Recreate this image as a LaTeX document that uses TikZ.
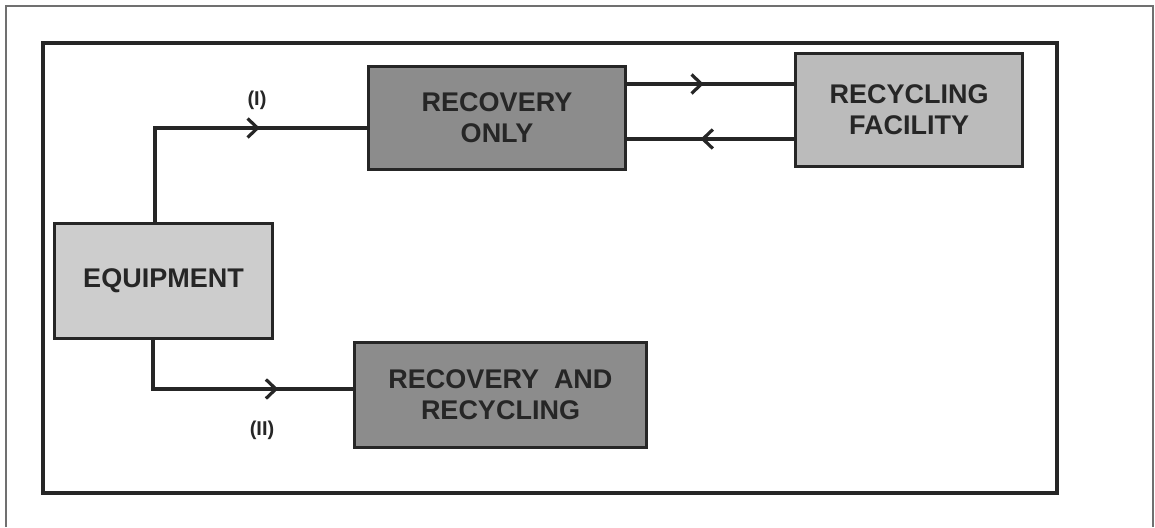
\documentclass[tikz,border=0pt]{standalone}
\usepackage{fontspec}
\setmainfont{Liberation Sans}
\usepackage{tikz}
\usetikzlibrary{arrows.meta,decorations.markings}
\definecolor{fgrey}{HTML}{707070}
\definecolor{ink}{HTML}{262626}
\definecolor{eqfill}{HTML}{CDCDCD}
\definecolor{recfill}{HTML}{8C8C8C}
\definecolor{facfill}{HTML}{BBBBBB}

\tikzset{
  blk/.style={draw=ink,line width=3.2pt,inner sep=0pt,align=center,text=ink,
    font=\bfseries\fontsize{27}{31}\selectfont},
  conn/.style={draw=ink,line width=3.2pt},
  tag/.style={text=ink,font=\bfseries\fontsize{20}{22}\selectfont},
  midarrow/.style={postaction={decorate},decoration={markings,
    mark=at position #1 with {\arrow{Straight Barb[length=10pt,width=19pt]}}}}
}

\begin{document}
\begin{tikzpicture}[x=1pt,y=-1pt]
  \useasboundingbox (0,0) rectangle (1155,527);
  % frames
  \draw[fgrey,line width=1.5pt] (6,527) -- (6,6) -- (1153,6) -- (1153,527);
  \draw[ink,line width=3.2pt] (43,43) rectangle (1057,493);
  % boxes
  \node[blk,fill=eqfill,minimum width=218,minimum height=115] (equip) at (163.5,281) {EQUIPMENT};
  \node[blk,fill=recfill,minimum width=257,minimum height=103] (recov) at (497,118) {RECOVERY\\ONLY};
  \node[blk,fill=facfill,minimum width=227,minimum height=113] (fac) at (909,110) {RECYCLING\\FACILITY};
  \node[blk,fill=recfill,minimum width=292,minimum height=105] (recyc) at (500.5,395) {RECOVERY\ \ AND\\RECYCLING};
  % routes
  \draw[conn,midarrow=0.65] (equip.north -| 155,0) |- (recov.west |- 0,128);
  \draw[conn,midarrow=0.70] (equip.south -| 153,0) |- (recyc.west |- 0,389);
  \draw[conn,midarrow=0.46] (recov.east |- 0,84) -- (fac.west |- 0,84);
  \draw[conn,midarrow=0.56] (fac.west |- 0,139) -- (recov.east |- 0,139);
  \node[tag] (tagI) at (257,100) {(I)};
  \node[tag] (tagII) at (262,430) {(II)};
\end{tikzpicture}
\end{document}
